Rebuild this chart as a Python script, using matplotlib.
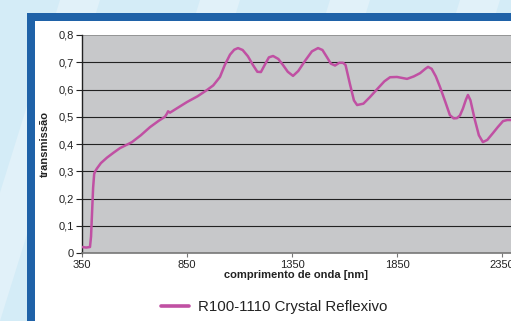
import matplotlib
matplotlib.use('Agg')
import matplotlib.pyplot as plt
from matplotlib.patches import Rectangle, Polygon

# valeurs
wavelength = [350, 370, 388, 393, 398, 403, 408, 413, 421, 440, 469, 500, 531, 560,
              588, 630, 674, 715, 745, 755, 760, 769, 800, 850, 900, 945, 975,
              1007, 1030, 1055, 1075, 1093, 1115, 1140, 1164, 1185, 1202, 1220,
              1240, 1260, 1285, 1307, 1330, 1355, 1380, 1412, 1445, 1474, 1495,
              1517, 1535, 1555, 1575, 1593, 1605, 1626, 1645, 1660, 1690, 1721,
              1760, 1790, 1817, 1850, 1898, 1930, 1960, 1985, 1998, 2015, 2035,
              2055, 2080, 2102, 2120, 2136, 2150, 2164, 2178, 2188, 2200, 2221,
              2240, 2259, 2280, 2307, 2330, 2355, 2375, 2393]
transmission = [0.022, 0.020, 0.022, 0.06, 0.15, 0.24, 0.29, 0.30, 0.31, 0.33, 0.35,
                0.368, 0.385, 0.396, 0.407, 0.432, 0.462, 0.485, 0.50, 0.512, 0.52,
                0.515, 0.53, 0.554, 0.575, 0.598, 0.615, 0.646, 0.69, 0.728, 0.746,
                0.752, 0.745, 0.722, 0.690, 0.665, 0.664, 0.690, 0.718, 0.723, 0.712,
                0.690, 0.665, 0.650, 0.668, 0.705, 0.740, 0.752, 0.745, 0.718, 0.695,
                0.688, 0.698, 0.698, 0.690, 0.620, 0.560, 0.543, 0.548, 0.572, 0.605,
                0.630, 0.645, 0.646, 0.639, 0.648, 0.660, 0.676, 0.683, 0.676, 0.648,
                0.609, 0.555, 0.506, 0.494, 0.495, 0.505, 0.530, 0.562, 0.580, 0.560,
                0.488, 0.432, 0.407, 0.415, 0.44, 0.462, 0.484, 0.488, 0.488]

xticks = [350, 850, 1350, 1850, 2350]
yticks = [0, 0.1, 0.2, 0.3, 0.4, 0.5, 0.6, 0.7, 0.8]
ylabels = ['0', '0,1', '0,2', '0,3', '0,4', '0,5', '0,6', '0,7', '0,8']
serie = 'R100-1110 Crystal Reflexivo'

plt.rcParams['font.family'] = ['Liberation Sans', 'DejaVu Sans']

W, H = 511, 321
fig = plt.figure(figsize=(W / 100, H / 100), dpi=100)
fig.patch.set_facecolor('#d4ecf7')

# quelques bandes diagonales claires dans le fond
for x0 in [-60, 60, 200, 330, 460]:
    fig.patches.append(Polygon([((x0) / W, 1), ((x0 + 40) / W, 1),
                                ((x0 - 60) / W, 0), ((x0 - 100) / W, 0)],
                               closed=True, transform=fig.transFigure,
                               facecolor='#e1f1f9', edgecolor='none', zorder=0))

# cadre bleu et panneau blanc
fig.patches.append(Rectangle((27 / W, 0), 1, (H - 13) / H, transform=fig.transFigure,
                             facecolor='#1f62a8', edgecolor='none', zorder=1))
fig.patches.append(Rectangle((35 / W, 0), 1, (H - 21) / H, transform=fig.transFigure,
                             facecolor='white', edgecolor='none', zorder=2))

ax = fig.add_axes([82 / W, (H - 253) / H, (W - 82) / W, 218 / H])
ax.set_zorder(5)
ax.set_facecolor('#c7c8ca')
ax.plot(wavelength, transmission, color='#c050a3', lw=1.8,
        solid_joinstyle='round', solid_capstyle='round', label=serie, zorder=3)

ax.set_xlim(350, 2393)
ax.set_ylim(0, 0.8)
ax.set_xticks(xticks)
ax.set_yticks(yticks)
ax.set_yticklabels(ylabels)
for y in yticks[1:-1]:
    ax.axhline(y, color='#222222', lw=0.8, zorder=1)
ax.axhline(0.8, color='#8c8c8c', lw=1.2, zorder=1)

for s in ['top', 'right']:
    ax.spines[s].set_visible(False)
ax.spines['left'].set_color('#222222')
ax.spines['left'].set_linewidth(1.0)
ax.spines['bottom'].set_color('#777777')
ax.spines['bottom'].set_linewidth(1.2)
ax.tick_params(axis='y', length=4, width=0.8, color='#222222', labelsize=8, pad=2,
               labelcolor='#222222')
ax.tick_params(axis='x', length=3, width=0.8, color='#777777', labelsize=8, pad=2,
               labelcolor='#222222')

ax.set_xlabel('comprimento de onda [nm]', fontsize=8, fontweight='bold', labelpad=0,
              color='#222222')
ax.set_ylabel('transmissão', fontsize=8, fontweight='bold', labelpad=6,
              color='#222222')

leg = fig.legend(handles=ax.get_lines(), labels=[serie], loc='center',
                 bbox_to_anchor=(274 / W, (H - 307) / H), frameon=False, fontsize=10.8,
                 handlelength=1.9, handletextpad=0.55)
leg.set_zorder(6)
leg.get_lines()[0].set_linewidth(2.6)
for t in leg.get_texts():
    t.set_color('#222222')

fig.savefig('out.png', dpi=100, facecolor=fig.get_facecolor())
